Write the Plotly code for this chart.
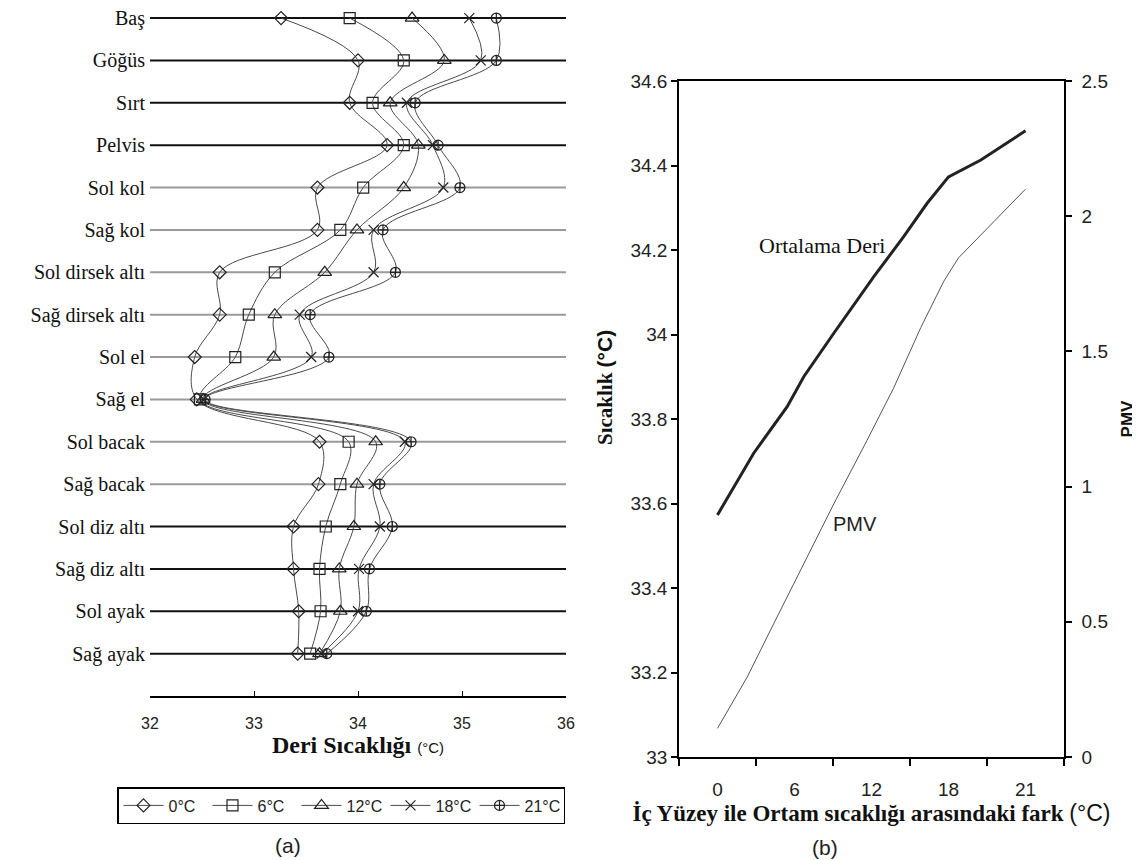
import plotly.graph_objects as go

# the page body adds an 8px margin; size the figure so it fits the 1140x860 window
OFF = 8
W, H = 1140 - OFF, 860 - OFF

# ---------------- data: panel (a) ----------------
categories = ["Baş", "Göğüs", "Sırt", "Pelvis", "Sol kol", "Sağ kol",
              "Sol dirsek altı", "Sağ dirsek altı", "Sol el", "Sağ el",
              "Sol bacak", "Sağ bacak", "Sol diz altı", "Sağ diz altı",
              "Sol ayak", "Sağ ayak"]

series_names = ["0°C", "6°C", "12°C", "18°C", "21°C"]
t0 = [33.26, 34.00, 33.92, 34.28, 33.61, 33.61, 32.67, 32.67, 32.43, 32.45, 33.63, 33.62, 33.38, 33.38, 33.43, 33.42]
t6 = [33.92, 34.44, 34.14, 34.44, 34.05, 33.83, 33.20, 32.95, 32.82, 32.48, 33.91, 33.83, 33.69, 33.63, 33.64, 33.54]
t12 = [34.52, 34.83, 34.31, 34.58, 34.44, 33.99, 33.68, 33.20, 33.19, 32.51, 34.17, 33.99, 33.96, 33.82, 33.83, 33.63]
t18 = [35.07, 35.18, 34.47, 34.72, 34.82, 34.15, 34.15, 33.44, 33.55, 32.52, 34.45, 34.15, 34.21, 34.01, 34.00, 33.65]
t21 = [35.33, 35.33, 34.55, 34.77, 34.98, 34.24, 34.36, 33.54, 33.72, 32.53, 34.51, 34.21, 34.33, 34.11, 34.08, 33.70]
x_ticks_a = [32, 33, 34, 35, 36]

# ---------------- data: panel (b) ----------------
fark_labels = ["0", "6", "12", "18", "21"]
deri_pos = [0.0, 0.47, 0.905, 1.12, 1.51, 2.03, 2.42, 2.72, 3.0, 3.42, 4.0]
deri_val = [33.573, 33.719, 33.829, 33.900, 34.003, 34.137, 34.232, 34.310, 34.373, 34.413, 34.482]
pmv_pos = [0.0, 0.386, 0.73, 1.08, 1.51, 1.94, 2.29, 2.64, 2.94, 3.13, 3.42, 4.0]
pmv_val = [0.106, 0.296, 0.493, 0.69, 0.936, 1.17, 1.366, 1.588, 1.76, 1.846, 1.932, 2.10]

# ---------------- styles ----------------
SERIF = "Liberation Serif, Times New Roman, serif"
SANS = "Liberation Sans, Arial, sans-serif"
symbols = ["diamond-open", "square-open", "triangle-up-open", "x-thin-open", "circle-cross-open"]
sizes = [10, 11, 12, 10, 10]
grid_colors = ["#111"] * 4 + ["#9a9a9a"] * 8 + ["#111"] * 4

def px_x(p):
    return (p - OFF) / W

def px_y(p):
    return 1 - (p - OFF) / H

fig = go.Figure()

series_vals = [t0, t6, t12, t18, t21]
for name, vals, sym, sz in zip(series_names, series_vals, symbols, sizes):
    fig.add_trace(go.Scatter(
        x=vals, y=categories, name=name, mode="lines+markers",
        line=dict(color="#4a4a4a", width=1, shape="spline", smoothing=1),
        marker=dict(symbol=sym, size=sz, color="#222", line=dict(color="#222", width=1.2)),
        xaxis="x", yaxis="y", showlegend=True,
    ))

fig.add_trace(go.Scatter(
    x=deri_pos, y=deri_val, mode="lines", name="Ortalama Deri",
    line=dict(color="#222", width=3), xaxis="x2", yaxis="y2", showlegend=False,
))
fig.add_trace(go.Scatter(
    x=pmv_pos, y=pmv_val, mode="lines", name="PMV",
    line=dict(color="#555", width=1), xaxis="x2", yaxis="y3", showlegend=False,
))

n = len(categories)
shapes = []
for i, c in enumerate(categories):
    idx = n - 1 - i
    shapes.append(dict(type="line", xref="x", yref="y", x0=32, x1=36, y0=idx, y1=idx,
                       line=dict(color=grid_colors[i], width=2), layer="below"))

fig.update_layout(
    width=W, height=H, autosize=False,
    margin=dict(l=0, r=0, t=0, b=0, autoexpand=False),
    paper_bgcolor="white", plot_bgcolor="white",
    font=dict(family=SANS, color="#222"),
    shapes=shapes,
    xaxis=dict(
        domain=[px_x(150), px_x(566)], range=[32, 36], anchor="y", automargin=False,
        tickvals=x_ticks_a, ticks="inside", ticklen=5, tickcolor="black", tickwidth=1,
        showline=True, linecolor="black", linewidth=1.5, showgrid=False, zeroline=False,
        tickfont=dict(family=SANS, size=16, color="#222"), ticklabelstandoff=12,
        title=dict(text="<b>Deri Sıcaklığı</b> <span style='font-family:Liberation Sans;font-size:15px'>(°C)</span>",
                   font=dict(family=SERIF, size=24, color="#111"), standoff=4),
    ),
    yaxis=dict(
        domain=[px_y(696), px_y(10)], anchor="x", type="category", automargin=False,
        categoryorder="array", categoryarray=list(reversed(categories)),
        range=[-1, 15.19], showgrid=False, zeroline=False, showline=False, ticks="",
        tickfont=dict(family=SERIF, size=20, color="#111"), ticklabelstandoff=4,
    ),
    xaxis2=dict(
        domain=[px_x(679), px_x(1064)], range=[-0.5, 4.5], anchor="y2", automargin=False,
        tickvals=list(range(len(fark_labels))), ticktext=fark_labels, ticks="",
        minor=dict(tickvals=[k - 0.5 for k in range(len(fark_labels) + 1)], ticks="outside",
                   ticklen=7, tickcolor="black", tickwidth=1.5),
        showline=True, mirror=True, linecolor="black", linewidth=1.5, showgrid=False, zeroline=False,
        tickfont=dict(family=SANS, size=19, color="#222"), ticklabelstandoff=14,
        title=dict(text="<b>İç Yüzey ile Ortam sıcaklığı arasındaki fark</b> <span style='font-family:Liberation Sans'>(°C)</span>",
                   font=dict(family=SERIF, size=23, color="#111"), standoff=2),
    ),
    yaxis2=dict(
        domain=[px_y(757), px_y(81)], range=[33, 34.6], anchor="x2", dtick=0.2, automargin=False,
        ticks="outside", ticklen=6, tickcolor="black", tickwidth=1.5,
        showline=True, linecolor="black", linewidth=1.5, showgrid=False, zeroline=False,
        tickfont=dict(family=SANS, size=19, color="#222"),
    ),
    yaxis3=dict(
        overlaying="y2", side="right", anchor="x2", range=[0, 2.5], dtick=0.5, automargin=False,
        ticks="outside", ticklen=6, tickcolor="black", tickwidth=1.5,
        showline=True, linecolor="black", linewidth=1.5, showgrid=False, zeroline=False,
        tickfont=dict(family=SANS, size=19, color="#222"), ticklabelstandoff=6,
        title=dict(text="<b>PMV</b>", font=dict(family=SANS, size=17, color="#111"), standoff=14),
    ),
    legend=dict(
        orientation="h", x=px_x(117), y=px_y(787), xanchor="left", yanchor="top",
        bordercolor="black", borderwidth=1.5, bgcolor="white",
        font=dict(family=SANS, size=16, color="#222"),
        itemwidth=40, entrywidth=34, entrywidthmode="pixels", tracegroupgap=0,
    ),
    annotations=[
        dict(text="<b>Sıcaklık</b> <b><span style='font-family:Liberation Sans'>(°C)</span></b>",
             x=px_x(605), y=px_y(388), xref="paper", yref="paper", textangle=-90, showarrow=False,
             xanchor="center", yanchor="middle",
             font=dict(family=SERIF, size=21, color="#111")),
        dict(text="Ortalama Deri", x=1.36, y=34.21, xref="x2", yref="y2", showarrow=False,
             font=dict(family=SERIF, size=22, color="#111")),
        dict(text="PMV", x=1.78, y=0.86, xref="x2", yref="y3", showarrow=False,
             font=dict(family=SANS, size=20, color="#222")),
        dict(text="(a)", x=px_x(288), y=px_y(845), xref="paper", yref="paper", showarrow=False,
             xanchor="center", yanchor="middle",
             font=dict(family=SANS, size=21, color="#222")),
        dict(text="(b)", x=px_x(825), y=px_y(847), xref="paper", yref="paper", showarrow=False,
             xanchor="center", yanchor="middle",
             font=dict(family=SANS, size=21, color="#222")),
    ],
)

fig.write_html("out.html")
